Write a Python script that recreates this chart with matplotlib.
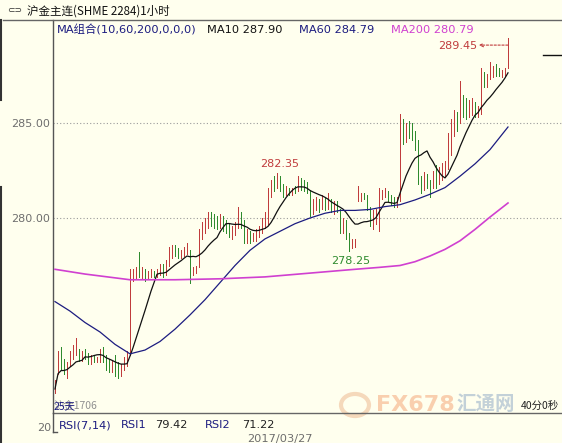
import numpy as np
import pandas as pd
import matplotlib
matplotlib.use("Agg")
import matplotlib.pyplot as plt
from matplotlib.lines import Line2D
from matplotlib.patches import Circle

# ---------------- data ----------------
title = "沪金主连(SHME 2284)1小时"
ma_combo = "MA组合(10,60,200,0,0,0)"
ma10_text = "MA10 287.90"
ma60_text = "MA60 284.79"
ma200_text = "MA200 280.79"
rsi_texts = ["RSI(7,14)", "RSI1", "79.42", "RSI2", "71.22"]
date_text = "2017/03/27"
yticks = [280.0, 285.0]
ytick_labels = ["280.00", "285.00"]

highs = [271.5, 273.0, 273.2, 272.6, 272.4, 273.0, 273.3, 273.7, 273.1, 273.0,
         273.1, 272.9, 272.8, 272.8, 272.7, 273.1, 273.2, 272.8, 272.6, 272.5,
         272.8, 272.4, 272.3, 272.7, 273.0, 277.3, 277.3, 277.4, 278.2, 277.4,
         277.3, 277.2, 277.3, 277.2, 277.3, 277.6, 277.6, 277.8, 278.5, 278.6,
         278.6, 278.4, 278.3, 278.5, 278.7, 278.3, 277.4, 277.5, 279.4, 279.8,
         280.0, 280.3, 280.3, 280.2, 280.1, 280.2, 280.1, 279.9, 279.7, 279.6,
         279.8, 280.6, 280.3, 279.9, 279.4, 279.3, 279.2, 279.4, 279.6, 280.0,
         280.3, 281.6, 282.0, 282.2, 282.35, 282.2, 281.8, 281.7, 281.6, 281.6,
         281.7, 282.2, 282.1, 282.0, 281.9, 281.5, 281.0, 281.1, 281.0, 281.2,
         281.1, 281.3, 281.0, 280.9, 280.9, 280.5, 280.0, 279.9, 279.2, 278.9,
         278.9, 281.7, 281.3, 281.3, 281.2, 280.6, 280.4, 280.5, 281.6, 281.5,
         281.6, 281.4, 281.2, 281.1, 281.1, 285.5, 285.2, 285.0, 285.1, 285.0,
         284.6, 284.1, 282.2, 282.4, 282.3, 282.0, 282.5, 282.8, 282.7, 282.9,
         283.0, 284.5, 285.2, 285.7, 285.6, 287.2, 286.5, 286.3, 286.2, 286.3,
         286.1, 285.9, 287.9, 287.7, 287.6, 288.2, 288.0, 288.1, 287.9, 287.8,
         287.9, 289.45]

lows = [270.8, 271.8, 272.0, 271.8, 271.6, 272.2, 272.6, 272.8, 272.5, 272.5,
        272.6, 272.3, 272.3, 272.4, 272.4, 272.4, 272.4, 272.0, 271.9, 271.9,
        271.7, 271.6, 271.7, 272.0, 272.2, 272.8, 276.7, 276.8, 276.9, 276.8,
        276.7, 276.8, 276.9, 276.9, 276.9, 277.0, 276.9, 277.0, 277.5, 277.9,
        278.0, 277.9, 277.9, 278.0, 278.1, 276.6, 277.0, 277.1, 277.4, 278.9,
        279.2, 279.5, 279.6, 279.5, 279.4, 279.5, 279.3, 279.2, 279.0, 278.9,
        279.1, 279.5, 279.5, 278.7, 278.7, 278.7, 278.8, 278.8, 279.0, 279.2,
        279.5, 279.7, 281.1, 281.4, 281.6, 281.4, 281.1, 281.2, 281.2, 281.2,
        281.3, 281.4, 281.5, 281.4, 281.3, 280.1, 280.2, 280.4, 280.3, 280.5,
        280.4, 280.5, 280.3, 280.2, 280.3, 279.2, 279.2, 278.9, 278.25, 278.4,
        278.5, 280.9, 280.9, 281.0, 280.4, 279.6, 279.4, 279.7, 279.3, 281.0,
        281.1, 280.9, 280.7, 280.6, 280.6, 280.9, 283.9, 284.0, 284.2, 284.1,
        283.6, 281.8, 281.3, 281.5, 281.6, 281.1, 281.6, 281.6, 281.8, 282.0,
        282.2, 282.6, 283.3, 284.3, 284.6, 285.0, 285.3, 285.2, 285.3, 285.4,
        285.3, 285.3, 285.5, 286.9, 286.9, 287.3, 287.4, 287.5, 287.5, 287.4,
        287.5, 287.9]

closes = [271.0, 272.6, 272.3, 272.0, 272.2, 272.8, 273.0, 273.5, 272.8, 272.9,
          272.8, 272.5, 272.6, 272.5, 272.6, 272.9, 272.6, 272.3, 272.1, 272.2,
          272.0, 271.8, 272.1, 272.5, 272.8, 276.9, 277.0, 277.2, 277.0, 277.1,
          276.9, 277.0, 277.1, 277.0, 277.2, 277.4, 277.1, 277.6, 278.3, 278.4,
          278.2, 278.1, 278.2, 278.3, 278.4, 277.0, 277.3, 277.4, 279.1, 279.6,
          279.8, 280.1, 279.9, 279.8, 279.7, 280.0, 279.6, 279.4, 279.2, 279.3,
          279.6, 280.2, 279.8, 279.0, 279.1, 278.9, 279.0, 279.2, 279.4, 279.8,
          280.1, 281.3, 281.8, 281.7, 282.1, 281.6, 281.4, 281.5, 281.4, 281.5,
          281.4, 282.0, 281.8, 281.6, 281.5, 280.4, 280.6, 280.8, 280.7, 280.9,
          280.6, 281.0, 280.5, 280.6, 280.5, 279.5, 279.6, 279.1, 278.5, 278.7,
          278.8, 281.0, 281.2, 281.1, 280.6, 279.9, 280.1, 280.3, 281.3, 281.3,
          281.4, 281.1, 280.9, 280.8, 281.0, 284.8, 284.6, 284.9, 284.8, 284.6,
          283.9, 282.2, 281.6, 282.0, 281.9, 281.5, 282.2, 281.9, 282.4, 282.6,
          282.8, 284.2, 284.9, 285.3, 285.2, 286.0, 285.9, 285.6, 285.7, 285.8,
          285.5, 285.6, 287.4, 287.2, 287.3, 287.6, 287.8, 287.7, 287.6, 287.7,
          287.8, 288.3]

ma60_idx = [0, 5, 10, 15, 20, 25, 30, 35, 40, 45, 50, 55, 60, 65, 70, 75, 80,
            85, 90, 95, 100, 105, 110, 115, 120, 125, 130, 135, 140, 145, 151]
ma60_val = [275.6, 275.1, 274.5, 274.0, 273.35, 272.85, 273.05, 273.5, 274.15, 274.9,
            275.7, 276.6, 277.5, 278.3, 278.9, 279.3, 279.7, 280.0, 280.25, 280.4,
            280.4, 280.45, 280.6, 280.7, 280.95, 281.25, 281.6, 282.2, 282.85,
            283.6, 284.79]

ma200_idx = [0, 10, 25, 40, 55, 70, 85, 100, 108, 115, 120, 125, 130, 135, 140,
             145, 151]
ma200_val = [277.3, 277.05, 276.75, 276.75, 276.8, 276.9, 277.1, 277.3, 277.4,
             277.5, 277.7, 278.0, 278.35, 278.8, 279.4, 280.05, 280.79]

# ---------------- layout ----------------
W, H = 562, 443
BG = '#FFFFEE'
RED = '#C03C3C'
GREEN = '#2E8B2E'
NAVY = '#1C1C80'
MAG = '#D040D0'
GRAY = '#6E6E6E'
CJK = ['Noto Sans CJK SC', 'DejaVu Sans']
LAT = ['DejaVu Sans', 'Noto Sans CJK SC']

def fx(x):
    return x / W

def fy(y):
    return 1 - y / H

fig = plt.figure(figsize=(W / 100, H / 100), dpi=100, facecolor=BG)

top_px, bot_px, left_px = 20, 413, 53
ax = fig.add_axes([fx(left_px), fy(bot_px), (W - left_px) / W, (bot_px - top_px) / H])
ax.set_facecolor(BG)

# price scale: 19 px per unit, 285 at y=123
def price_at(ypx):
    return 285 - (ypx - 123) / 19.0

ax.set_ylim(price_at(bot_px), price_at(top_px))
ax.set_xlim((left_px - 55) / 3.0, (W - 55) / 3.0)

for s in ['top', 'right', 'bottom']:
    ax.spines[s].set_visible(False)
ax.spines['left'].set_color('#555555')
ax.spines['left'].set_linewidth(1)

ax.set_xticks([])
ax.set_yticks(yticks)
ax.set_yticklabels(ytick_labels, color=GRAY, fontsize=8)
ax.tick_params(axis='y', length=0, pad=2)
ax.yaxis.grid(True, linestyle=(0, (1, 2)), color='#9A9A9A', lw=0.8)

h = np.array(highs)
l = np.array(lows)
c = np.array(closes)
idx = np.arange(len(c))
prev = np.r_[c[0] - 1, c[:-1]]
cols = np.where(c >= prev, RED, GREEN)

ax.vlines(idx, l, h, colors=cols, lw=0.72, antialiased=False, zorder=3)

ma10 = pd.Series(c).rolling(10, min_periods=1).mean().values
ax.plot(idx, ma10, color='#111111', lw=0.9, zorder=4)
ax.plot(ma60_idx, ma60_val, color=NAVY, lw=0.9, zorder=4)
ax.plot(ma200_idx, ma200_val, color=MAG, lw=1.2, zorder=4)

# annotations of extremes
imax1 = int(np.argmax(h[:100]))
ax.annotate(f"{h[imax1]:.2f}", xy=(imax1, h[imax1]), xytext=(3, 4),
            textcoords='offset pixels', ha='center', va='bottom',
            color=RED, fontsize=8)
imin = int(np.argmin(l[60:110])) + 60
ax.annotate(f"{l[imin]:.2f}", xy=(imin, l[imin]), xytext=(2, -5),
            textcoords='offset pixels', ha='center', va='top',
            color=GREEN, fontsize=8)
ilast = len(h) - 1
ax.annotate(f"{h[ilast]:.2f}", xy=(ilast, h[ilast]), xytext=(-31, -8),
            textcoords='offset pixels', ha='right', va='center',
            color=RED, fontsize=8)
ax.annotate('', xy=(ilast - 9.7, h[ilast] - 0.35), xytext=(ilast, h[ilast] - 0.35),
            arrowprops=dict(arrowstyle='->', linestyle=(0, (2, 1.5)), color=RED,
                            lw=0.8, shrinkA=0, shrinkB=0, mutation_scale=6))

# ---------------- figure decorations ----------------
def fline(x0, y0, x1, y1, color='#555555', lw=1.0):
    fig.add_artist(Line2D([fx(x0), fx(x1)], [fy(y0), fy(y1)], color=color, lw=lw,
                          transform=fig.transFigure))

fline(3, 20, W, 20, '#666666', 1.0)            # under title
fline(left_px, bot_px, W, bot_px, '#666666', 1.0)  # panel separator
fline(left_px, bot_px, left_px, 432, '#555555', 1.0)
fline(left_px, 432, left_px + 4, 432, '#555555', 1.0)
fline(543, 55, W, 55, '#111111', 1.0)
fline(0.5, 20, 0.5, 100, '#333333', 1.5)
fline(0.5, 187, 0.5, H, '#333333', 1.5)

fig.text(fx(7), fy(11), "⊂⊃", fontsize=6.5, color='#333333', va='center', ha='left')
fig.text(fx(27), fy(11), title, fontsize=8.3, family=CJK, color='#111111',
         va='center', ha='left')

fig.text(fx(57), fy(30), ma_combo, fontsize=8.2, family=LAT, color=NAVY, va='center')
fig.text(fx(207), fy(30), ma10_text, fontsize=8.2, color='#111111', va='center')
fig.text(fx(299), fy(30), ma60_text, fontsize=8.2, color=NAVY, va='center')
fig.text(fx(391), fy(30), ma200_text, fontsize=8.2, color=MAG, va='center')

# lower panel texts (overlapping labels as in the source terminal)
fig.text(fx(54), fy(406), "沪金1706", fontsize=7.5, family=CJK, color='#909090', va='center')
fig.text(fx(54), fy(406), "25天", fontsize=7.5, family=CJK, color=NAVY, va='center')
fig.text(fx(559), fy(406), "40分0秒", fontsize=7.5, family=CJK, color='#222222',
         va='center', ha='right')

rsi_x = [59, 121, 155, 205, 242]
rsi_c = [NAVY, NAVY, '#222222', NAVY, '#222222']
for t, xx, cc in zip(rsi_texts, rsi_x, rsi_c):
    fig.text(fx(xx), fy(425), t, fontsize=8.2, color=cc, va='center')
fig.text(fx(51), fy(428), "20", fontsize=8, color=GRAY, va='center', ha='right')
fig.text(fx(247), fy(439), date_text, fontsize=8.2, color=GRAY, va='center')

# watermark
fig.add_artist(Circle((fx(355), fy(405)), 14 / W, transform=fig.transFigure,
                      fill=False, ec='#E8A070', lw=3, alpha=0.4))
fig.text(fx(376), fy(405), "FX678", fontsize=16, fontweight='bold', color='#F08850',
         alpha=0.4, va='center')
fig.text(fx(456), fy(405), "汇通网", fontsize=14, fontweight='bold', family=CJK,
         color='#6A8CB8', alpha=0.4, va='center')

fig.savefig("out.png", dpi=100, facecolor=BG)
